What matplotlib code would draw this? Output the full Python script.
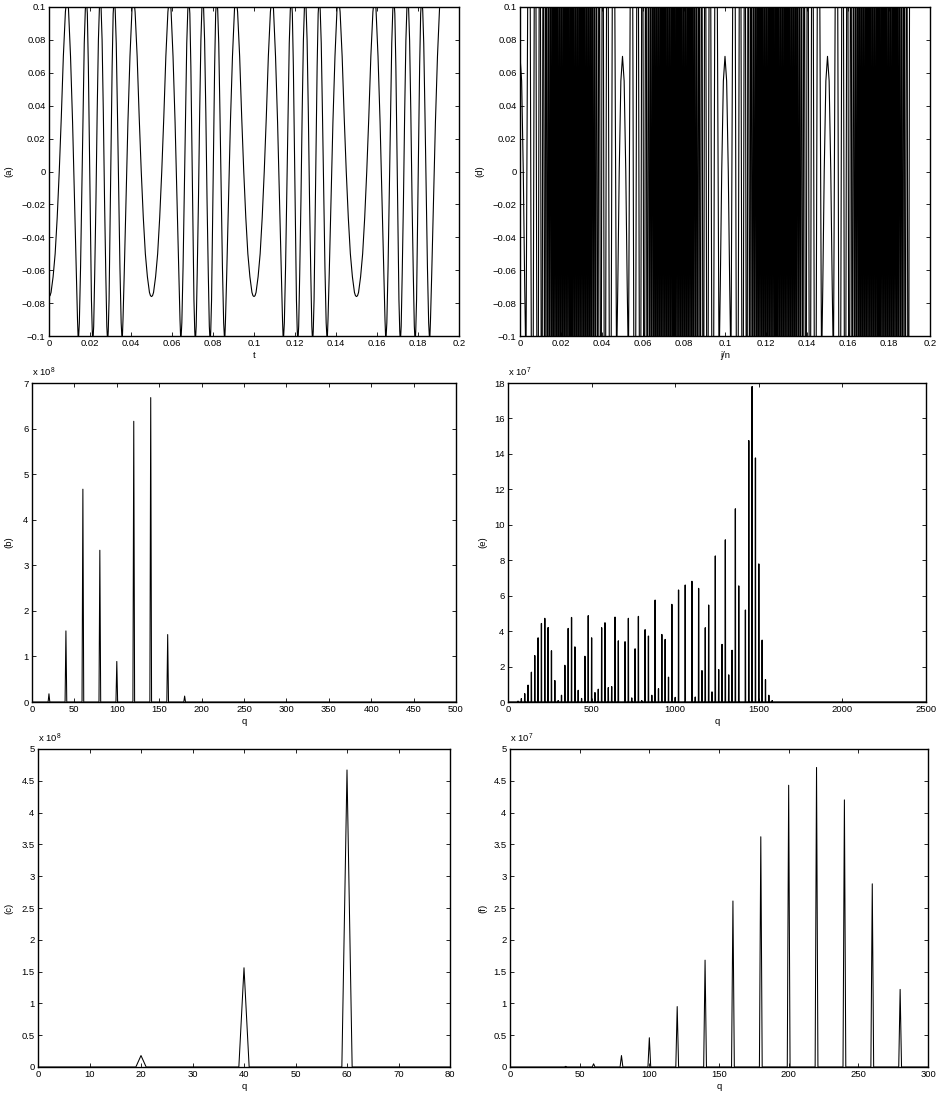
import numpy as np
import matplotlib
matplotlib.use("Agg")
import matplotlib.pyplot as plt

plt.rcParams['font.family'] = ['Liberation Sans', 'DejaVu Sans']
plt.rcParams['mathtext.fontset'] = 'custom'
plt.rcParams['mathtext.rm'] = 'Liberation Sans'
plt.rcParams['mathtext.default'] = 'regular'
plt.rcParams['axes.unicode_minus'] = True

# --- panel (a): half of one 0.05 period of the signal
a_t_half = [0, .0005, .001, .002, .003, .004, .005, .006, .007, .008, .0087, .0095, .0105, .0115, .0125, .0133, .0139, .0143,
            .0148, .0154, .016, .0166, .0172, .0177, .0182, .0187, .0192, .0197, .0202, .0207, .0211, .0214,
            .0218, .0223, .0229, .0235, .0241, .0246, .025]
a_y_half = [-.076, -.0755, -.0735, -.064, -.05, -.028, 0, .033, .07, .097, .106, .099, .07, .03, -.02, -.062, -.09, -.104,
            -.092, -.058, -.012, .035, .078, .098, .106, .096, .064, .018, -.032, -.078, -.097, -.104,
            -.094, -.062, -.018, .036, .08, .1, .106]
a_end = 0.191

# --- panel (d): turning points of the dense trace over half a period
d_t_half = [0, .0008, .0016, .0023, .0029,
            .0045, .0060, .0074, .0086, .0097, .0106, .0114, .0121, .0127, .0133, .0138, .0143, .0148, .0153,
            .0157, .0162, .0166, .0171, .0175, .0180, .0184, .0189, .0193, .0198, .0202, .0207, .0211, .0216,
            .0220, .0225, .0229, .0234, .0238, .0243, .0247, .0250]
d_y_half = [.07, .055, 0, -.07, -.12,
            .3, -.3, .3, -.3, .3, -.3, .3, -.3, .3, -.3, .3, -.3, .3, -.3,
            .3, -.3, .3, -.3, .3, -.3, .3, -.3, .3, -.3, .3, -.3, .3, -.3,
            .3, -.3, .3, -.3, .3, -.3, .3, -.3]
d_end = 0.191

# --- panels (b), (c): spectrum of (a)
b_q = [20, 40, 60, 80, 100, 120, 140, 160, 180]
b_val = [0.18, 1.56, 4.67, 3.33, 0.89, 6.16, 6.68, 1.48, 0.13]
c_q = [20, 40, 60]
c_val = [0.18, 1.56, 4.67]

# --- panel (e): spectrum of (d), harmonics of 20
e_q = [60, 80, 100, 120, 140, 160, 180, 200, 220, 240, 260, 280, 300, 320, 340, 360, 380, 400, 420, 440,
       460, 480, 500, 520, 540, 560, 580, 600, 620, 640, 660, 700, 720, 740, 760, 780, 800, 820, 840, 860,
       880, 900, 920, 940, 960, 980, 1000, 1020, 1060, 1100, 1120, 1140, 1160, 1180, 1200, 1220, 1240, 1260,
       1280, 1300, 1320, 1340, 1360, 1380, 1420, 1440, 1460, 1480, 1500, 1520, 1540, 1560, 1580]
e_val = [.05, .19, .47, .95, 1.68, 2.62, 3.62, 4.43, 4.72, 4.2, 2.89, 1.21, .08, .38, 2.07, 4.15, 4.77, 3.11, .66, .2,
         2.58, 4.87, 3.62, .53, .72, 4.19, 4.47, .81, .87, 4.79, 3.45, 3.4, 4.72, .23, 3.0, 4.83, .08, 4.08, 3.72, .38,
         5.75, .75, 3.81, 3.53, 1.4, 5.51, .26, 6.32, 6.6, 6.81, .28, 6.41, 1.77, 4.19, 5.47, .57, 8.24, 1.83,
         3.25, 9.15, 1.53, 2.92, 10.9, 6.55, 5.19, 14.75, 17.8, 13.77, 7.79, 3.49, 1.26, .38, .08]

# --- panel (f): spectrum detail
f_q = [40, 60, 80, 100, 120, 140, 160, 180, 200, 220, 240, 260, 280]
f_val = [.01, .05, .18, .46, .95, 1.68, 2.61, 3.62, 4.43, 4.71, 4.20, 2.88, 1.22]


def tile(t_half, y_half, end):
    t_half = np.asarray(t_half)
    y_half = np.asarray(y_half)
    t_p = np.r_[t_half, .05 - t_half[-2::-1]]
    y_p = np.r_[y_half, y_half[-2::-1]]
    t = np.concatenate([t_p[:-1] + .05 * k for k in range(4)] + [[.2]])
    y = np.r_[np.tile(y_p[:-1], 4), y_p[-1]]
    keep = t <= end
    return t[keep], y[keep]


def spikes(q, v, qmax):
    qs = [0.0]
    vs = [0.0]
    for a, b in zip(q, v):
        qs += [a - 1, a, a + 1]
        vs += [0, b, 0]
    qs.append(qmax)
    vs.append(0)
    return qs, vs


W, H = 936, 1095
fig = plt.figure(figsize=(W / 100, H / 100), dpi=100)


def make_ax(l, r, t, b):
    ax = fig.add_axes([l / W, 1 - b / H, (r - l) / W, (b - t) / H])
    for s in ax.spines.values():
        s.set_linewidth(1.0)
    ax.tick_params(direction='in', top=True, right=True, length=3, width=0.6,
                   labelsize=6.8, pad=2.5)
    return ax


def dress(ax, xlim, ylim, xt, yt, xl, yl, ylab_px, mult=None):
    ax.set_xlim(*xlim)
    ax.set_ylim(*ylim)
    ax.set_xticks(xt)
    ax.set_xticklabels([f'{v:g}' for v in xt])
    ax.set_yticks(yt)
    ax.set_yticklabels([f'{v:g}'.replace('-', '\u2212') for v in yt])
    ax.set_xlabel(xl, fontsize=6.8, labelpad=1.5)
    ax.set_ylabel(yl, fontsize=6.8)
    ax.yaxis.set_label_coords(ylab_px, 0.5)
    if mult is not None:
        ax.text(0.0, 1.012, f'x 10$^{{{mult}}}$', transform=ax.transAxes, fontsize=6.8, va='bottom', ha='left')


lw = 0.75
xt_sig = [0, .02, .04, .06, .08, .1, .12, .14, .16, .18, .2]
yt_sig = [-.1, -.08, -.06, -.04, -.02, 0, .02, .04, .06, .08, .1]

ax = make_ax(49, 459, 7, 336)
t, y = tile(a_t_half, a_y_half, a_end)
ax.plot(t, y, color='k', lw=0.8)
dress(ax, (0, .2), (-.1, .1), xt_sig, yt_sig, 't', '(a)', -0.088)

ax = make_ax(520, 930, 7, 336)
t, y = tile(d_t_half, d_y_half, d_end)
ax.plot(t, y, color='k', lw=0.8)
dress(ax, (0, .2), (-.1, .1), xt_sig, yt_sig, 'j/n', '(d)', -0.088)

ax = make_ax(32, 456, 383, 702)
ax.plot(*spikes(b_q, b_val, 500), color='k', lw=lw)
dress(ax, (0, 500), (0, 7), list(range(0, 501, 50)), list(range(8)), 'q', '(b)', -0.045, 8)

ax = make_ax(508, 926, 383, 702)
ax.plot(*spikes(e_q, e_val, 2500), color='k', lw=0.9)
dress(ax, (0, 2500), (0, 18), [0, 500, 1000, 1500, 2000, 2500], list(range(0, 19, 2)), 'q', '(e)', -0.05, 7)

half_steps = [v / 2 for v in range(11)]

ax = make_ax(38, 450, 749, 1067)
ax.plot(*spikes(c_q, c_val, 80), color='k', lw=lw)
dress(ax, (0, 80), (0, 5), list(range(0, 81, 10)), half_steps, 'q', '(c)', -0.06, 8)

ax = make_ax(510, 928, 749, 1067)
ax.plot(*spikes(f_q, f_val, 300), color='k', lw=lw)
dress(ax, (0, 300), (0, 5), list(range(0, 301, 50)), half_steps, 'q', '(f)', -0.055, 7)

fig.savefig('out.png', dpi=100)
